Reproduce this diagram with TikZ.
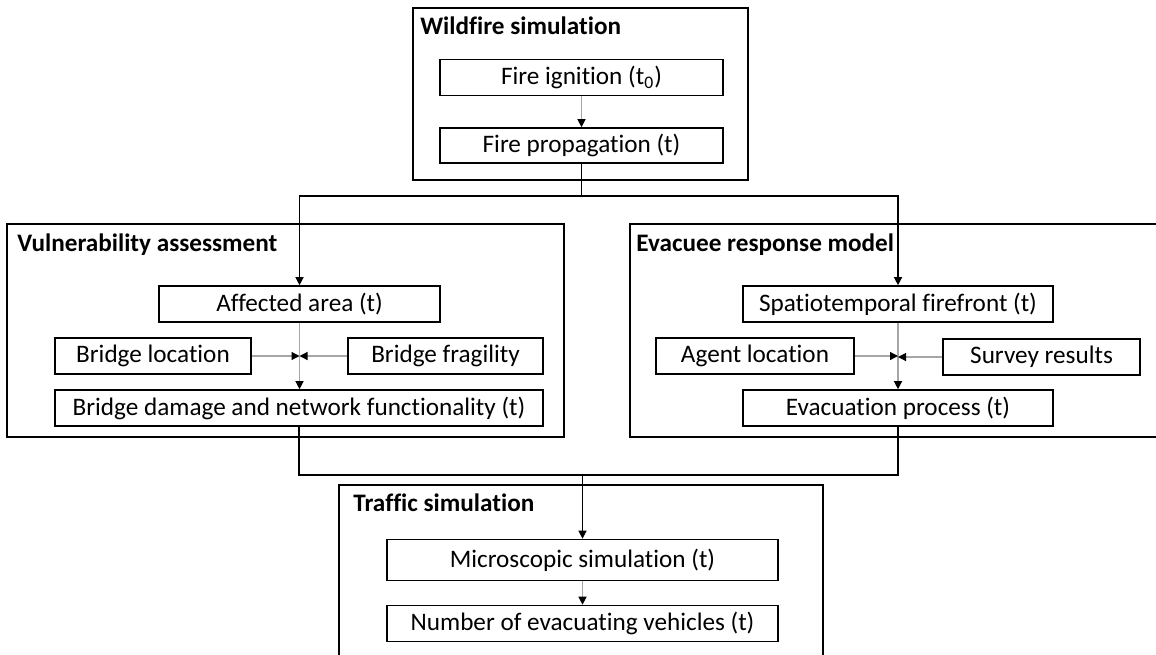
\documentclass[tikz,border=0pt]{standalone}
\usepackage{fontspec}
\setmainfont{Carlito}[Ligatures={NoCommon,NoContextual}]
\usetikzlibrary{arrows.meta}

\begin{document}
\begin{tikzpicture}[x=0.5pt,y=-0.5pt,
	box/.style={draw,line width=0.8pt,inner sep=0pt,minimum height=18pt,font=\fontsize{12.6}{15}\selectfont},
	frame/.style={draw,line width=0.8pt},
	title/.style={anchor=base west,inner sep=0pt,font=\fontsize{12.6}{15}\selectfont\bfseries},
	link/.style={line width=0.6pt,-{Triangle[length=4pt,width=4pt,black]}},
	soft/.style={link,draw=gray!70},
	plain/.style={line width=0.6pt}]
	\useasboundingbox (0,0) rectangle (1156,654);
	% frames
	\draw[frame] (413,8) rectangle (748,180);
	\draw[frame] (7,224) rectangle (564,437);
	\draw[frame] (630,224) rectangle (1170,437);
	\draw[frame] (339,485) rectangle (823,670);
	\node[title] (tfire) at (420,34) {Wildfire simulation};
	\node[title] (tvul) at (17,251) {Vulnerability assessment};
	\node[title] (tevac) at (636,251) {Evacuee response model};
	\node[title] (ttraf) at (353,511) {Traffic simulation};
	% boxes
	\node[box,minimum width=141.5pt] (ign) at (581.5,77.5) {Fire ignition (t\textsubscript{0})};
	\node[box,minimum width=141.5pt,minimum height=17.5pt] (prop) at (581.5,145.5) {Fire propagation (t)};
	\node[box,minimum width=140.5pt] (aff) at (299.5,304) {Affected area (t)};
	\node[box,minimum width=98pt] (bloc) at (153,356) {Bridge location};
	\node[box,minimum width=97.5pt] (bfrag) at (445.5,356) {Bridge fragility};
	\node[box,minimum width=244pt] (dmg) at (299,408) {Bridge damage and network functionality (t)};
	\node[box,minimum width=155pt] (spt) at (898,304) {Spatiotemporal firefront (t)};
	\node[box,minimum width=99pt] (aloc) at (755,356) {Agent location};
	\node[box,minimum width=98.5pt] (surv) at (1041.5,357) {Survey results};
	\node[box,minimum width=155pt] (evp) at (898,408) {Evacuation process (t)};
	\node[box,minimum width=195.5pt,minimum height=20.5pt] (micro) at (582.5,560) {Microscopic simulation (t)};
	\node[box,minimum width=195.5pt] (num) at (582.5,623.5) {Number of evacuating vehicles (t)};
	% links
	\coordinate (split) at (581.5,196);
	\coordinate (merge) at (582.5,475);
	\draw[soft] (ign) -- (prop);
	\draw[plain] (prop.south) -- (split);
	\draw[link] (split) -| (aff.north);
	\draw[link] (split) -| (spt.north);
	\draw[soft] (aff.south) -- (aff.south |- dmg.north);
	\draw[soft] (bloc.east) -- (bloc.east -| aff.south);
	\draw[soft] (bfrag.west) -- (bfrag.west -| aff.south);
	\draw[soft] (spt.south) -- (evp.north);
	\draw[soft] (aloc.east) -- (aloc.east -| spt.south);
	\draw[soft] (surv.west) -- (surv.west -| spt.south);
	\draw[plain] (dmg.south) |- (merge);
	\draw[plain] (evp.south) |- (merge);
	\draw[link] (merge) -- (micro.north);
	\draw[soft] (micro) -- (num);
\end{tikzpicture}
\end{document}
